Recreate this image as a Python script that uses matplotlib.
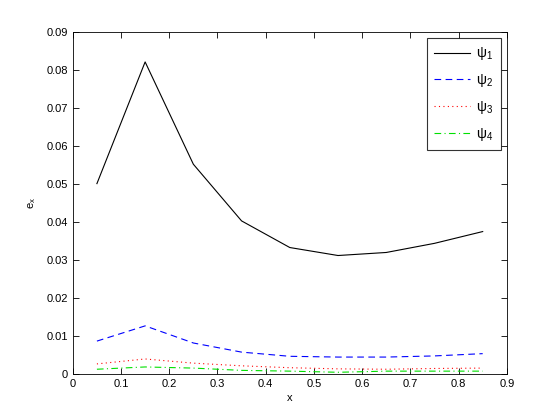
import matplotlib
matplotlib.use('Agg')
import matplotlib.pyplot as plt

plt.rcParams['font.family'] = ['Liberation Sans', 'DejaVu Sans']
plt.rcParams['font.size'] = 8
plt.rcParams['mathtext.fontset'] = 'custom'
plt.rcParams['mathtext.rm'] = 'Liberation Sans'

x = [0.05, 0.15, 0.25, 0.35, 0.45, 0.55, 0.65, 0.75, 0.85]
psi1 = [0.0500, 0.0820, 0.0551, 0.0402, 0.0332, 0.0311, 0.0319, 0.0343, 0.0374]
psi2 = [0.0086, 0.0126, 0.0081, 0.0057, 0.0046, 0.0044, 0.0044, 0.0047, 0.0053]
psi3 = [0.0026, 0.0039, 0.0028, 0.0021, 0.0016, 0.0013, 0.0012, 0.0014, 0.0015]
psi4 = [0.0012, 0.0018, 0.0015, 0.0009, 0.0007, 0.0004, 0.0007, 0.0007, 0.0007]

xticks = [0, 0.1, 0.2, 0.3, 0.4, 0.5, 0.6, 0.7, 0.8, 0.9]
yticks = [0, 0.01, 0.02, 0.03, 0.04, 0.05, 0.06, 0.07, 0.08, 0.09]

fig = plt.figure(figsize=(5.6, 4.2), dpi=100)
ax = fig.add_axes([0.13, 0.11, 0.775, 0.815])

ax.plot(x, psi1, '-', color='black', lw=0.8, label='ψ$_\\mathregular{1}$')
ax.plot(x, psi2, '--', color='blue', lw=0.8, dashes=(6, 4), label='ψ$_\\mathregular{2}$')
ax.plot(x, psi3, ':', color='red', lw=0.8, dashes=(1, 3), label='ψ$_\\mathregular{3}$')
ax.plot(x, psi4, '-.', color='#00e000', lw=0.8, dashes=(6, 3, 1, 3), label='ψ$_\\mathregular{4}$')

ax.set_xlim(0, 0.9)
ax.set_ylim(0, 0.09)
ax.set_xticks(xticks)
ax.set_yticks(yticks)
ax.set_xticklabels(['0', '0.1', '0.2', '0.3', '0.4', '0.5', '0.6', '0.7', '0.8', '0.9'])
ax.set_yticklabels(['0', '0.01', '0.02', '0.03', '0.04', '0.05', '0.06', '0.07', '0.08', '0.09'])
ax.tick_params(direction='in', length=4, width=0.6, top=True, right=True, labelsize=8)
for s in ax.spines.values():
    s.set_linewidth(0.6)

ax.set_xlabel('x', fontsize=8, labelpad=3)
ax.set_ylabel(r'e$_\mathregular{x}$', fontsize=8, labelpad=6)

leg = ax.legend(loc='upper right', fontsize=10, frameon=True, fancybox=False,
                edgecolor='black', borderpad=0.55, labelspacing=0.7,
                handlelength=2.6, handletextpad=0.4, borderaxespad=0.45)
leg.get_frame().set_linewidth(0.8)

fig.savefig('out.png', dpi=100)
